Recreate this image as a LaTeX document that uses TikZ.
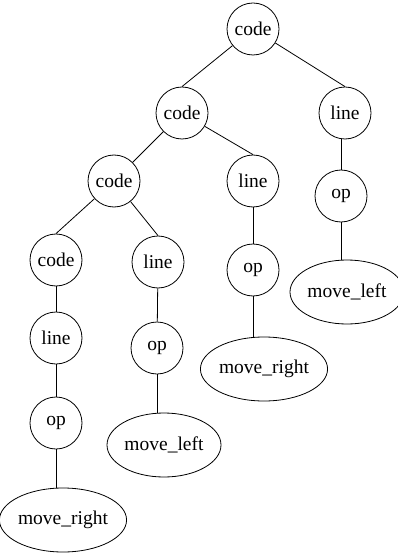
\documentclass[tikz,border=0pt]{standalone}
\usepackage{fontspec}
\setmainfont{Liberation Serif}
\usetikzlibrary{shapes.geometric}
\tikzset{
  tnode/.style={draw, circle, minimum size=52pt, inner sep=0pt, line width=0.8pt, font=\fontsize{19.5}{22}\selectfont},
  enode/.style={draw, ellipse, minimum width=114pt, minimum height=64pt, inner sep=0pt, line width=0.8pt, font=\fontsize{19.5}{22}\selectfont},
  edge/.style={line width=0.8pt}
}
\begin{document}
\begin{tikzpicture}[x=1pt,y=-1pt]
\useasboundingbox (0,0) rectangle (397,553);
\node[tnode] (c1) at (253,29) {code};
\node[tnode] (c2) at (182,113) {code};
\node[tnode] (lR) at (345,113) {line};
\node[tnode] (c3) at (114,181) {code};
\node[tnode] (lM) at (253,181) {line};
\node[tnode] (oR) at (341,196) {op};
\node[tnode] (c4) at (56,260) {code};
\node[tnode] (lL2) at (158,262) {line};
\node[tnode] (oM) at (253,270) {op};
\node[enode] (mlR) at (347,292) {move\_left};
\node[tnode] (lL) at (56,338) {line};
\node[tnode] (oL2) at (157,348) {op};
\node[enode] (mrM) at (264,369) {move\_right};
\node[tnode] (oL) at (56,423) {op};
\node[enode] (mlM) at (164,445) {move\_left};
\node[enode] (mrL) at (63,520) {move\_right};
\draw[edge] (c1) -- (c2.north);
\draw[edge] (c1) -- (lR.north);
\draw[edge] (c2) -- (c3);
\draw[edge] (c2) -- (lM.north);
\draw[edge] (c3) -- (c4.north);
\draw[edge] (c3) -- (lL2.north);
\draw[edge] (lR.south -| oR) -- (oR);
\draw[edge] (lM) -- (oM);
\draw[edge] (c4) -- (lL);
\draw[edge] (lL2) -- (oL2);
\draw[edge] (lL) -- (oL);
\draw[edge] (oR) -- (oR |- mlR.north);
\draw[edge] (oM) -- (oM |- mrM.north);
\draw[edge] (oL2) -- (oL2 |- mlM.north);
\draw[edge] (oL) -- (oL |- mrL.north);
\end{tikzpicture}
\end{document}
